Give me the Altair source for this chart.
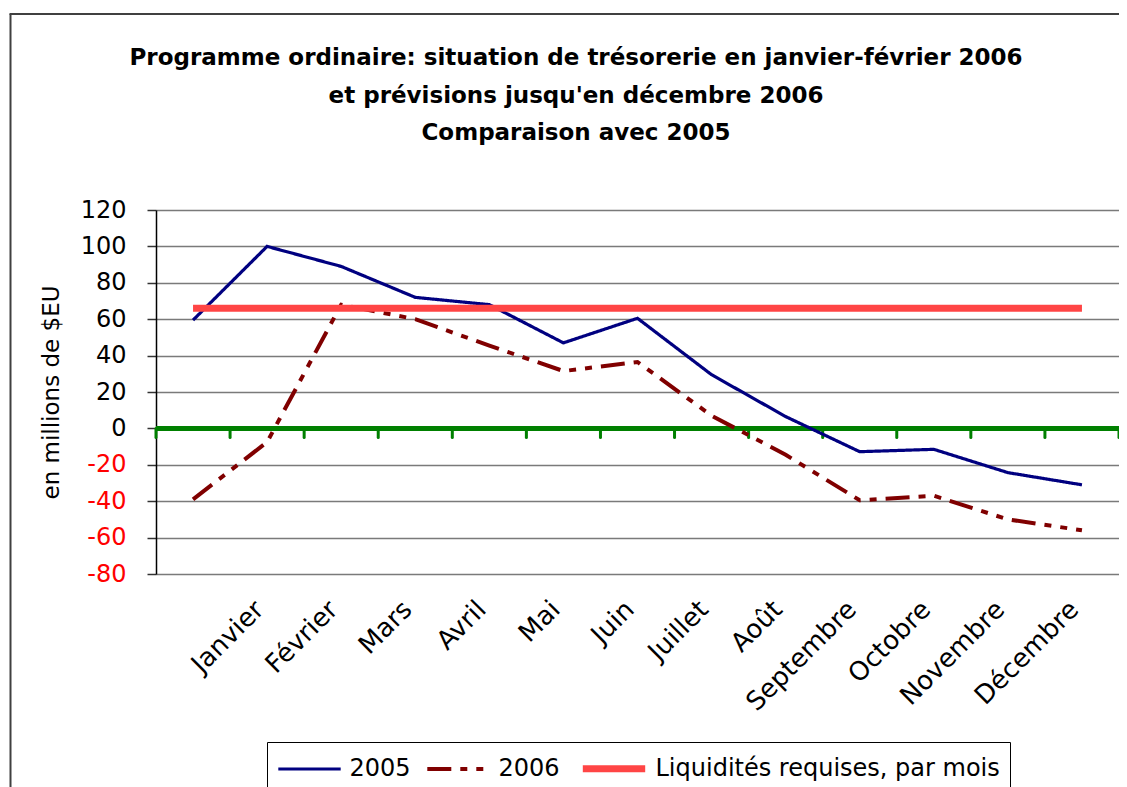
import altair as alt
import pandas as pd

# ---- data ----
months = ["", "Janvier", "Février", "Mars", "Avril", "Mai", "Juin", "Juillet",
          "Août", "Septembre", "Octobre", "Novembre", "Décembre"]
v2005 = [59.5, 100, 89, 72, 68, 47, 60.5, 29.5, 6.5, -12.8, -11.5, -24.3, -31]
v2006 = [-39, -7.5, 68, 60, 45.5, 31.5, 36.5, 7, -14.5, -39.5, -37, -50, -56]
required = [66] * 13
series_names = ["2005", "2006", "Liquidités requises, par mois"]
y_ticks = [-80, -60, -40, -20, 0, 20, 40, 60, 80, 100, 120]
title_lines = [
    "Programme ordinaire: situation de trésorerie en janvier-février 2006",
    "et prévisions jusqu'en décembre 2006",
    "Comparaison avec 2005",
]

rows = []
for i, m in enumerate(months):
    rows.append({"idx": i, "month": m, "series": series_names[0], "value": v2005[i]})
    rows.append({"idx": i, "month": m, "series": series_names[1], "value": v2006[i]})
    rows.append({"idx": i, "month": m, "series": series_names[2], "value": required[i]})
df = pd.DataFrame(rows)

# category boundaries (tick marks on the zero line)
bounds = pd.DataFrame({"idx": [i - 0.5 for i in range(len(months) + 1)],
                       "value": [0] * (len(months) + 1),
                       "value2": [-5] * (len(months) + 1)})
zero_df = pd.DataFrame({"value": [0]})
one_row = pd.DataFrame({"a": [0]})

FONT = "DejaVu Sans"
W, H = 963, 364

label_expr = "[" + ",".join("'" + m + "'" for m in months) + "][datum.value]"

x_enc = alt.X("idx:Q",
              scale=alt.Scale(domain=[-0.5, 12.5], nice=False, zero=False),
              axis=alt.Axis(values=list(range(1, 13)), labelExpr=label_expr,
                            labelAngle=315, labelAlign="right", labelBaseline="middle",
                            labelFont=FONT, labelFontSize=26, labelColor="#000000",
                            labelPadding=31, labelOffset=-8, domain=False, ticks=False, grid=False,
                            labelOverlap=False, labelFlush=False),
              title=None)

y_enc = alt.Y("value:Q",
              scale=alt.Scale(domain=[-80, 120], nice=False, zero=False),
              axis=alt.Axis(values=y_ticks, title="en millions de $EU",
                            titleFont=FONT, titleFontSize=23, titleFontWeight="normal",
                            titleColor="#000000", titlePadding=17,
                            labelFont=FONT, labelFontSize=24,
                            labelExpr="datum.value < 0 ? '-' + abs(datum.value) : '' + datum.value",
                            labelColor={"condition": {"test": "datum.value < 0", "value": "#FF0000"},
                                        "value": "#000000"},
                            labelPadding=21, tickSize=9, tickColor="#333333", tickWidth=1.5,
                            domainColor="#000000", domainWidth=1.5,
                            grid=True, gridColor="#7A7A7A", gridWidth=1.5))

zero_line = alt.Chart(zero_df).mark_rule(color="#008000", strokeWidth=5).encode(y=y_enc)

zero_ticks = alt.Chart(bounds).mark_rule(color="#008000", strokeWidth=3, strokeCap="round").encode(
    x=x_enc, y=y_enc, y2="value2:Q")

legend = alt.Legend(title=None, orient="none", legendX=111, legendY=532,
                    direction="horizontal", symbolType="M-2.4,0H2.4", symbolSize=676,
                    symbolOffset=17.5,
                    labelFont=FONT, labelFontSize=24, labelColor="#000000",
                    labelOffset=25, columnPadding=8, padding=10,
                    strokeColor="#000000", fillColor="#FFFFFF", labelLimit=600)

lines = alt.Chart(df).mark_line(strokeCap="butt").encode(
    x=x_enc, y=y_enc,
    color=alt.Color("series:N", sort=series_names,
                    scale=alt.Scale(domain=series_names, range=["#000080", "#800000", "#FF4545"]),
                    legend=legend),
    strokeDash=alt.StrokeDash("series:N", sort=series_names,
                              scale=alt.Scale(domain=series_names,
                                              range=[[1, 0], [24, 9, 7, 9, 7, 9], [1, 0]]),
                              legend=legend),
    strokeWidth=alt.StrokeWidth("series:N", sort=series_names,
                                scale=alt.Scale(type="ordinal", domain=series_names, range=[3.2, 4, 7]),
                                legend=legend),
)

title_text = alt.Chart(one_row).mark_text(
    text=title_lines, font=FONT, fontSize=23, fontWeight="bold", color="#000000",
    align="center", baseline="alphabetic", lineHeight=37.5).encode(
    x=alt.value(420), y=alt.value(-145))

frame_left = alt.Chart(one_row).mark_rule(color="#404040", strokeWidth=2).encode(
    x=alt.value(-145.5), y=alt.value(-196), y2=alt.value(H + 300))
frame_top = alt.Chart(one_row).mark_rule(color="#404040", strokeWidth=2).encode(
    x=alt.value(-146.5), x2=alt.value(W), y=alt.value(-196))

chart = alt.layer(zero_line, zero_ticks, lines, title_text, frame_left, frame_top).properties(
    width=W, height=H,
    padding={"left": 148, "top": 202, "right": 0, "bottom": 213},
    autosize=alt.AutoSizeParams(type="none"),
).configure_view(fill="#FFFFCC", strokeWidth=0).configure(background="#FFFFFF")

chart.save("out.html", embed_options={"renderer": "svg", "actions": False})
